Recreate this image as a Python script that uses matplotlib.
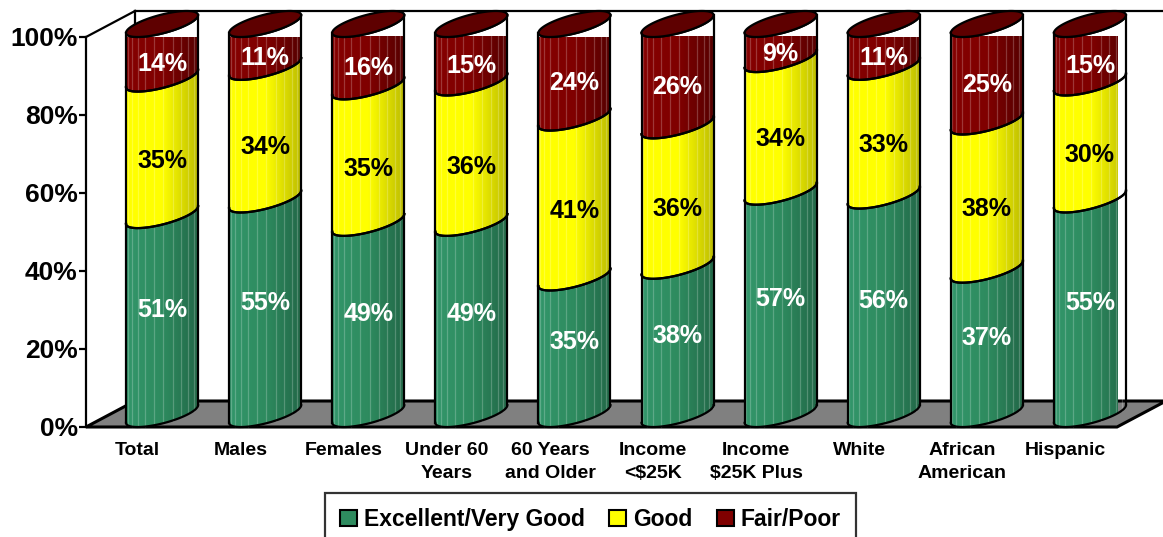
import numpy as np
import matplotlib.pyplot as plt
from matplotlib.patches import Polygon
from matplotlib.colors import LinearSegmentedColormap

plt.rcParams['font.family'] = ['Liberation Sans', 'DejaVu Sans']
plt.rcParams['font.weight'] = 'bold'

# Daten
categories = ["Total", "Males", "Females", "Under 60\nYears", "60 Years\nand Older",
              "Income\n<$25K", "Income\n$25K Plus", "White", "African\nAmerican", "Hispanic"]
excellent = [51, 55, 49, 49, 35, 38, 57, 56, 37, 55]
good = [35, 34, 35, 36, 41, 36, 34, 33, 38, 30]
fair_poor = [14, 11, 16, 15, 24, 26, 9, 11, 25, 15]
series_names = ["Excellent/Very Good", "Good", "Fair/Poor"]
y_ticks = [0, 20, 40, 60, 80, 100]

# Farben (hell links, dunkel rechts)
face_colors = ["#2E8B5F", "#FFFF00", "#800000"]
shade_colors = [("#32966A", "#226848"), ("#FFFF00", "#BDBD00"), ("#850000", "#560000")]
label_colors = ["white", "black", "white"]
label_shift = [3, -10, -9]   # in Punkten
cap_color = "#5E0000"

W, H = 1163, 537
fig = plt.figure(figsize=(W / 100, H / 100), dpi=100)
# Vorderebene des Diagramms
ax = fig.add_axes([86 / W, (H - 427) / H, 1031 / W, 390 / H])
ax.set_xlim(-0.5, 9.5)
ax.set_ylim(0, 100)

# Tiefe (schraeg nach hinten oben), in Datenkoordinaten
px_x = 1031 / 10
px_y = 390 / 100
dx, dy = 49 / px_x, 26 / px_y
ux = 26.4 / px_x           # Radius in Breite
vx, vy = dx / 2, dy / 2    # Radius in Tiefe
t0 = np.arctan2(vx, ux)
t_front = np.linspace(t0 - np.pi, t0, 80)
t_full = np.linspace(0, 2 * np.pi, 160)
R = np.hypot(ux, vx)

# Rueckwand und Boden
kw = dict(color="black", lw=1.6, clip_on=False, zorder=1)
ax.plot([-0.5, -0.5 + dx], [100, 100 + dy], **kw)
ax.plot([-0.5 + dx, -0.5 + dx], [dy, 100 + dy], **kw)
ax.plot([-0.5 + dx, 9.5 + dx], [100 + dy, 100 + dy], **kw)
floor = Polygon([(-0.5, 0), (9.5, 0), (9.5 + dx, dy), (-0.5 + dx, dy)], closed=True,
                facecolor="#808080", edgecolor="black", lw=2.2, clip_on=False, zorder=2)
ax.add_patch(floor)


def front_curve(cx, cy):
    return cx + ux * np.cos(t_front) + vx * np.sin(t_front), cy + vy * np.sin(t_front)


facet_t = np.arange(-np.pi, np.pi, np.pi / 12)
facet_t = facet_t[(facet_t > t0 - np.pi + 0.05) & (facet_t < t0 - 0.05)]

for i in range(len(categories)):
    vals = [excellent[i], good[i], fair_poor[i]]
    bounds = np.concatenate([[0], np.cumsum(vals)])
    cx = i + vx
    for k in range(3):
        lo, hi = bounds[k], bounds[k + 1]
        xl, yl = front_curve(cx, lo + vy)
        xh, yh = front_curve(cx, hi + vy)
        poly = np.vstack([np.column_stack([xl, yl]), np.column_stack([xh[::-1], yh[::-1]])])
        patch = Polygon(poly, closed=True, transform=ax.transData)
        cmap = LinearSegmentedColormap.from_list("c", [shade_colors[k][0], face_colors[k], shade_colors[k][1]])
        grad = np.linspace(0, 1, 64).reshape(1, -1)
        ax.imshow(grad, cmap=cmap, aspect="auto", origin="lower",
                  extent=[cx - R, cx + R, lo, hi + 2 * vy + 1],
                  clip_path=patch, zorder=3, interpolation="bilinear")
        # Facettenlinien
        for t in facet_t:
            fx = cx + ux * np.cos(t) + vx * np.sin(t)
            fy = vy + vy * np.sin(t)
            ax.plot([fx, fx], [lo + fy, hi + fy], color="white", alpha=0.22, lw=0.9,
                    clip_on=False, zorder=4)
        ax.plot(xl, yl, color="black", lw=1.6, clip_on=False, zorder=5)
        ax.plot(xh, yh, color="black", lw=1.6, clip_on=False, zorder=5)
        ax.plot([cx - R, cx - R], [yl[0], yh[0]], color="black", lw=1.6,
                clip_on=False, zorder=5)
        ax.plot([cx + R, cx + R], [yl[-1], yh[-1]], color="black", lw=1.6,
                clip_on=False, zorder=5)
        ax.annotate(f"{vals[k]}%", (cx, (lo + hi) / 2 + vy), xytext=(0, label_shift[k]),
                    textcoords="offset points", ha="center", va="center", fontsize=18,
                    fontweight="bold", color=label_colors[k], zorder=7, annotation_clip=False)
    # Deckel
    top = bounds[-1]
    ex = cx + ux * np.cos(t_full) + vx * np.sin(t_full)
    ey = top + vy + vy * np.sin(t_full)
    cap = Polygon(np.column_stack([ex, ey]), closed=True, facecolor=cap_color,
                  edgecolor="black", lw=1.6, clip_on=False, zorder=6)
    ax.add_patch(cap)

# Achsen
for s in ["top", "right", "bottom"]:
    ax.spines[s].set_visible(False)
ax.spines["left"].set_linewidth(1.6)
ax.spines["left"].set_zorder(2)
ax.set_yticks(y_ticks)
ax.set_yticklabels([f"{v}%" for v in y_ticks], fontsize=19, fontweight="bold")
ax.tick_params(axis="y", length=5, width=1.6, pad=1)
ax.set_xticks(range(len(categories)))
ax.set_xticklabels(categories, fontsize=14, fontweight="bold", linespacing=1.45)
ax.tick_params(axis="x", length=0, pad=11)
ax.patch.set_visible(False)

# Legende
handles = [Polygon([(0, 0)], facecolor=c, edgecolor="black", lw=1.5) for c in face_colors]
leg = fig.legend(handles, series_names, loc="upper center", bbox_to_anchor=(590.5 / W, 1 - 493 / H),
                 ncol=3, fontsize=16.5, frameon=True, fancybox=False, edgecolor="black",
                 handlelength=0.75, handleheight=0.75, handletextpad=0.3, columnspacing=1.05,
                 borderpad=0.65, borderaxespad=0)
leg.get_frame().set_linewidth(1.6)
for t in leg.get_texts():
    t.set_fontweight("bold")

fig.savefig("out.png", dpi=100)
